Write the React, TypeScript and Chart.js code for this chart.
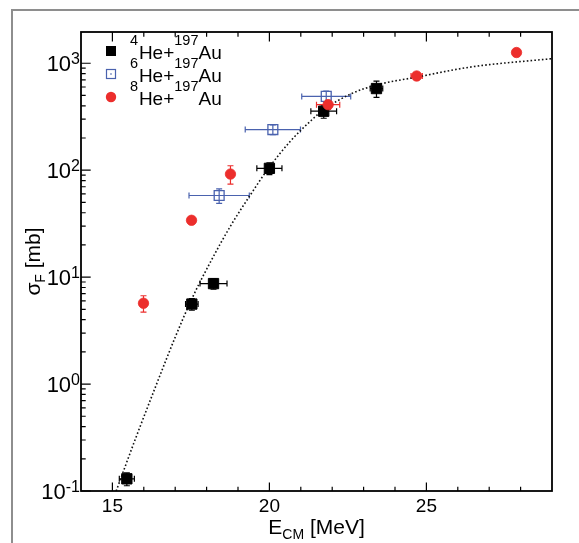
import React, { useEffect, useRef } from 'react';
import { Chart, registerables } from 'chart.js';

Chart.register(...registerables);

// ---- data ----
const he4E = [15.46, 17.53, 18.22, 20.0, 21.73, 23.41];
const he4Sigma = [0.13, 5.6, 8.7, 104, 356, 580];
const he4EErr = [0.24, 0.2, 0.43, 0.4, 0.41, 0.2];
const he4SigmaErr = [0.018, 0.7, 1.0, 13, 50, 100];

const he6E = [18.4, 20.11, 21.81];
const he6Sigma = [58, 240, 490];
const he6EErr = [0.96, 0.88, 0.78];
const he6SigmaErr = [9, 25, 60];

const he8E = [15.99, 17.52, 18.76, 21.87, 24.69, 27.87];
const he8Sigma = [5.7, 34, 92, 410, 760, 1260];
const he8EErr = [0, 0, 0, 0.37, 0.18, 0];
const he8SigmaErr = [1.0, 0, 18, 40, 40, 0];

const fitE = [15.12, 15.72, 16.43, 17.0, 17.54, 18.12, 18.76, 19.39, 19.97, 20.67, 21.31, 21.72, 22.59, 23.42, 24.69, 26.42, 29.0];
const fitSigma = [0.1, 0.3, 1.04, 2.74, 6.36, 13.8, 30, 58.5, 104, 187, 288, 366, 516, 627, 742, 923, 1105];

const xTickValues = [15, 20, 25];
const xTickLabels = ['15', '20', '25'];
const yTickExponents = ['-1', '0', '1', '2', '3'];

const legendLabels = [
  { sup: '4', main: 'He+', sup2: '197', end: 'Au' },
  { sup: '6', main: 'He+', sup2: '197', end: 'Au' },
  { sup: '8', main: 'He+', sup2: '197', end: 'Au' },
];

const FONT = "'Liberation Sans', Arial, Helvetica, sans-serif";
const BLACK = '#000000';
const BLUE = '#4a62ae';
const RED = '#ec2e2c';

type Part = { text: string; size: number; dy: number };

function richWidth(ctx: CanvasRenderingContext2D, parts: Part[]) {
  let w = 0;
  for (const p of parts) {
    ctx.font = `${p.size}px ${FONT}`;
    w += ctx.measureText(p.text).width;
  }
  return w;
}

function drawRich(ctx: CanvasRenderingContext2D, parts: Part[], x: number, y: number) {
  let cx = x;
  ctx.textAlign = 'left';
  ctx.textBaseline = 'alphabetic';
  for (const p of parts) {
    ctx.font = `${p.size}px ${FONT}`;
    ctx.fillText(p.text, cx, y + p.dy);
    cx += ctx.measureText(p.text).width;
  }
}

const series = [
  { E: he4E, S: he4Sigma, eE: he4EErr, eS: he4SigmaErr, color: BLACK },
  { E: he6E, S: he6Sigma, eE: he6EErr, eS: he6SigmaErr, color: BLUE },
  { E: he8E, S: he8Sigma, eE: he8EErr, eS: he8SigmaErr, color: RED },
];

const overlay = {
  id: 'overlay',
  beforeDraw(chart: any) {
    const ctx = chart.ctx as CanvasRenderingContext2D;
    ctx.save();
    ctx.fillStyle = '#ffffff';
    ctx.fillRect(0, 0, chart.width, chart.height);
    ctx.strokeStyle = '#8e8e8e';
    ctx.lineWidth = 2;
    ctx.beginPath();
    ctx.moveTo(12, chart.height);
    ctx.lineTo(12, 10);
    ctx.lineTo(chart.width, 10);
    ctx.stroke();
    ctx.restore();
  },
  beforeDatasetsDraw(chart: any) {
    const ctx = chart.ctx as CanvasRenderingContext2D;
    const xs = chart.scales.x;
    const ys = chart.scales.y;
    const cap = 3;
    ctx.save();
    ctx.lineWidth = 1.2;
    for (const s of series) {
      ctx.strokeStyle = s.color;
      for (let i = 0; i < s.E.length; i++) {
        const px = xs.getPixelForValue(s.E[i]);
        const py = ys.getPixelForValue(s.S[i]);
        if (s.eE[i] > 0) {
          const x1 = xs.getPixelForValue(s.E[i] - s.eE[i]);
          const x2 = xs.getPixelForValue(s.E[i] + s.eE[i]);
          ctx.beginPath();
          ctx.moveTo(x1, py); ctx.lineTo(x2, py);
          ctx.moveTo(x1, py - cap); ctx.lineTo(x1, py + cap);
          ctx.moveTo(x2, py - cap); ctx.lineTo(x2, py + cap);
          ctx.stroke();
        }
        if (s.eS[i] > 0) {
          const y1 = ys.getPixelForValue(s.S[i] - s.eS[i]);
          const y2 = ys.getPixelForValue(s.S[i] + s.eS[i]);
          ctx.beginPath();
          ctx.moveTo(px, y1); ctx.lineTo(px, y2);
          ctx.moveTo(px - cap, y1); ctx.lineTo(px + cap, y1);
          ctx.moveTo(px - cap, y2); ctx.lineTo(px + cap, y2);
          ctx.stroke();
        }
      }
    }
    ctx.restore();
  },
  afterDraw(chart: any) {
    const ctx = chart.ctx as CanvasRenderingContext2D;
    const a = chart.chartArea;
    const xs = chart.scales.x;
    const ys = chart.scales.y;
    ctx.save();
    // frame
    ctx.strokeStyle = '#000';
    ctx.lineWidth = 1.8;
    ctx.strokeRect(a.left, a.top, a.right - a.left, a.bottom - a.top);
    // x ticks (bottom and top, inward)
    ctx.lineWidth = 1.2;
    ctx.beginPath();
    for (let v = Math.ceil(xs.min); v < xs.max; v++) {
      if (v <= xs.min) continue;
      const px = xs.getPixelForValue(v);
      const major = v % 5 === 0;
      const lb = major ? 8.5 : 4.3;
      const lt = major ? 9.5 : 4.7;
      ctx.moveTo(px, a.bottom); ctx.lineTo(px, a.bottom - lb);
      ctx.moveTo(px, a.top); ctx.lineTo(px, a.top + lt);
    }
    // y ticks (left, inward)
    for (let d = -1; d <= 3; d++) {
      for (let k = 1; k <= 9; k++) {
        const v = k * Math.pow(10, d);
        if (v > ys.max || v < ys.min) continue;
        const py = ys.getPixelForValue(v);
        const len = k === 1 ? 9.7 : 4.7;
        ctx.moveTo(a.left, py); ctx.lineTo(a.left + len, py);
      }
    }
    ctx.stroke();

    ctx.fillStyle = '#000';
    // x tick labels
    ctx.font = `19px ${FONT}`;
    ctx.textAlign = 'center';
    ctx.textBaseline = 'alphabetic';
    xTickValues.forEach((v, i) => {
      ctx.fillText(xTickLabels[i], xs.getPixelForValue(v), 512);
    });
    // y tick labels 10^n
    yTickExponents.forEach((e) => {
      const py = ys.getPixelForValue(Math.pow(10, Number(e)));
      const parts: Part[] = [
        { text: '10', size: 22, dy: 8 },
        { text: e, size: 16, dy: 1 },
      ];
      const w = richWidth(ctx, parts);
      drawRich(ctx, parts, a.left - 1 - w, py);
    });
    // x title
    const xt: Part[] = [
      { text: 'E', size: 21, dy: 0 },
      { text: 'CM', size: 14, dy: 5 },
      { text: ' [MeV]', size: 21, dy: 0 },
    ];
    const xw = richWidth(ctx, xt);
    drawRich(ctx, xt, (a.left + a.right) / 2 - xw / 2, 534);
    // y title
    const yt: Part[] = [
      { text: 'σ', size: 21, dy: 0 },
      { text: 'F', size: 14, dy: 5 },
      { text: ' [mb]', size: 21, dy: 0 },
    ];
    const yw = richWidth(ctx, yt);
    ctx.save();
    ctx.translate(40, (a.top + a.bottom) / 2);
    ctx.rotate(-Math.PI / 2);
    drawRich(ctx, yt, -yw / 2, 0);
    ctx.restore();

    // legend
    const rows = [51, 74, 97];
    const mx = 111;
    ctx.fillStyle = BLACK;
    ctx.fillRect(mx - 5, rows[0] - 5, 10, 10);
    ctx.strokeStyle = BLUE;
    ctx.lineWidth = 1.2;
    ctx.strokeRect(mx - 4.5, rows[1] - 4.5, 9, 9);
    ctx.fillStyle = BLUE;
    ctx.fillRect(mx - 0.7, rows[1] - 0.7, 1.4, 1.4);
    ctx.fillStyle = RED;
    ctx.beginPath();
    ctx.arc(mx, rows[2], 5.2, 0, Math.PI * 2);
    ctx.fill();
    ctx.fillStyle = '#000';
    legendLabels.forEach((l, i) => {
      const cy = rows[i];
      const parts: Part[] = [
        { text: l.sup, size: 14.5, dy: -6 },
        { text: ' ', size: 3, dy: 0 },
        { text: l.main, size: 19, dy: 8 },
        { text: l.sup2, size: 14.5, dy: -6 },
        { text: l.end, size: 19, dy: 8 },
      ];
      drawRich(ctx, parts, 130, cy);
    });
    ctx.restore();
  },
};

export default function App() {
  const ref = useRef<HTMLCanvasElement | null>(null);
  useEffect(() => {
    if (!ref.current) return;
    const toPts = (E: number[], S: number[]) => E.map((e, i) => ({ x: e, y: S[i] }));
    const chart = new Chart(ref.current, {
      type: 'scatter',
      data: {
        datasets: [
          {
            label: '8He+197Au',
            data: toPts(he8E, he8Sigma),
            pointStyle: 'circle',
            pointRadius: 5.2,
            backgroundColor: RED,
            borderColor: RED,
            borderWidth: 0.8,
          },
          {
            label: '6He+197Au',
            data: toPts(he6E, he6Sigma),
            pointStyle: 'rect',
            pointRadius: 7,
            backgroundColor: 'rgba(0,0,0,0)',
            borderColor: BLUE,
            borderWidth: 1.3,
          },
          {
            label: '4He+197Au',
            data: toPts(he4E, he4Sigma),
            pointStyle: 'rect',
            pointRadius: 7.3,
            backgroundColor: BLACK,
            borderColor: BLACK,
            borderWidth: 1,
          },
          {
            label: 'fit',
            data: toPts(fitE, fitSigma),
            showLine: true,
            pointRadius: 0,
            borderColor: '#111',
            borderWidth: 1.6,
            borderDash: [1.6, 2.2],
            cubicInterpolationMode: 'monotone',
            fill: false,
          } as any,
        ],
      },
      options: {
        animation: false,
        responsive: false,
        devicePixelRatio: 1,
        layout: { padding: { left: 81, right: 27, top: 32, bottom: 52 } },
        plugins: { legend: { display: false }, tooltip: { enabled: false } },
        scales: {
          x: { type: 'linear', min: 14, max: 29, display: false },
          y: { type: 'logarithmic', min: 0.1, max: 1960, display: false },
        },
      },
      plugins: [overlay],
    });
    return () => chart.destroy();
  }, []);
  return (
    <div style={{ position: 'absolute', left: 0, top: 0, width: 579, height: 543 }}>
      <canvas ref={ref} width={579} height={543} />
    </div>
  );
}
